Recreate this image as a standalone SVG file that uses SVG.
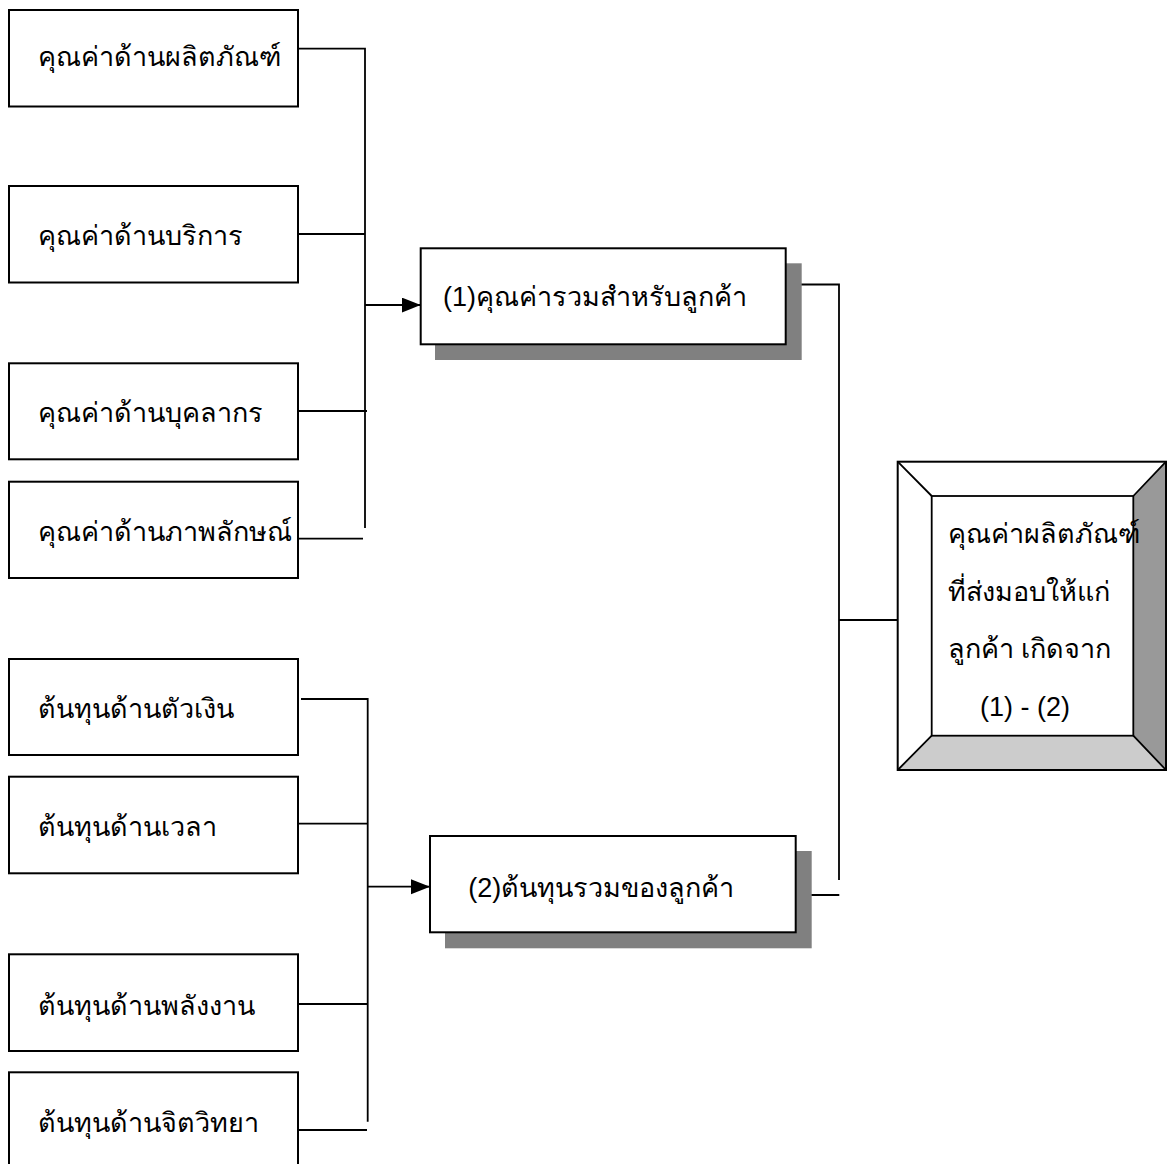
<svg xmlns="http://www.w3.org/2000/svg" width="1167" height="1164" viewBox="0 0 1167 1164">
<style>
.box{fill:#fff;stroke:#000;stroke-width:2}
.shadow{fill:#808080}
.t{font-family:"Liberation Sans","DejaVu Sans",sans-serif;font-size:27px;fill:#000}
.c{fill:none;stroke:#000;stroke-width:1.8}
</style>
<defs>
<marker id="arr" markerWidth="20" markerHeight="16" refX="19" refY="7.5" orient="auto" markerUnits="userSpaceOnUse">
<path d="M0,0 L19,7.5 L0,15 Z" fill="#000"/>
</marker>
</defs>
<rect width="1167" height="1164" fill="#fff"/>
<g id="connectors">
<path class="c" d="M298,48.7 H365 V528"/>
<path class="c" d="M296,234 H365"/>
<path class="c" d="M298,411 H367"/>
<path class="c" d="M298,538.7 H363"/>
<path class="c" d="M365,305 H420.7" marker-end="url(#arr)"/>
<path class="c" d="M798,284.5 H839 V880"/>
<path class="c" d="M839,620 H898"/>
<path class="c" d="M800,895 H839.3"/>
<path class="c" d="M301,699 H367.7 V1121.7"/>
<path class="c" d="M298,823.7 H367.7"/>
<path class="c" d="M298,1004 H367.7"/>
<path class="c" d="M298,1130 H367"/>
<path class="c" d="M367.7,886.7 H430" marker-end="url(#arr)"/>
</g>
<g id="n1"><rect class="box" x="9" y="10" width="289" height="96.5"/><text class="t" x="38" y="66">คุณค่าด้านผลิตภัณฑ์</text></g>
<g id="n2"><rect class="box" x="9" y="186" width="289" height="96.5"/><text class="t" x="38" y="245">คุณค่าด้านบริการ</text></g>
<g id="n3"><rect class="box" x="9" y="363.3" width="289" height="96"/><text class="t" x="38" y="421.5">คุณค่าด้านบุคลากร</text></g>
<g id="n4"><rect class="box" x="9" y="481.7" width="289" height="96.3"/><text class="t" x="38" y="540.5">คุณค่าด้านภาพลักษณ์</text></g>
<g id="n5"><rect class="box" x="9" y="659" width="289" height="96"/><text class="t" x="38" y="718">ต้นทุนด้านตัวเงิน</text></g>
<g id="n6"><rect class="box" x="9" y="776.7" width="289" height="96.6"/><text class="t" x="38" y="836">ต้นทุนด้านเวลา</text></g>
<g id="n7"><rect class="box" x="9" y="954.3" width="289" height="96.7"/><text class="t" x="38" y="1015">ต้นทุนด้านพลังงาน</text></g>
<g id="n8"><rect class="box" x="9" y="1072.3" width="289" height="100"/><text class="t" x="38" y="1131.5">ต้นทุนด้านจิตวิทยา</text></g>
<g id="total1"><rect class="shadow" x="435" y="263.3" width="366.7" height="96.7"/><rect class="box" x="420.7" y="248.3" width="365" height="96"/><text class="t" x="443" y="306">(1)คุณค่ารวมสำหรับลูกค้า</text></g>
<g id="total2"><rect class="shadow" x="445" y="851" width="366.7" height="97.3"/><rect class="box" x="430" y="836" width="365.7" height="96.3"/><text class="t" x="468.3" y="896.5">(2)ต้นทุนรวมของลูกค้า</text></g>
<g id="result">
<rect x="897.7" y="461.7" width="268.3" height="308.3" fill="#fff"/>
<polygon points="1133.3,496 1166,461.7 1166,770 1133.3,735.7" fill="#999"/>
<polygon points="931.7,735.7 1133.3,735.7 1166,770 897.7,770" fill="#ccc"/>
<g fill="none" stroke="#000" stroke-width="1.8">
<rect x="897.7" y="461.7" width="268.3" height="308.3" stroke-width="2"/>
<rect x="931.7" y="496" width="201.6" height="239.7"/>
<path d="M897.7,461.7 L931.7,496 M1166,461.7 L1133.3,496 M897.7,770 L931.7,735.7 M1166,770 L1133.3,735.7"/>
</g>
<text class="t" x="947.7" y="543">คุณค่าผลิตภัณฑ์</text>
<text class="t" x="947.7" y="601">ที่ส่งมอบให้แก่</text>
<text class="t" x="947.7" y="658">ลูกค้า เกิดจาก</text>
<text class="t" x="980" y="716">(1) - (2)</text>
</g>
</svg>
